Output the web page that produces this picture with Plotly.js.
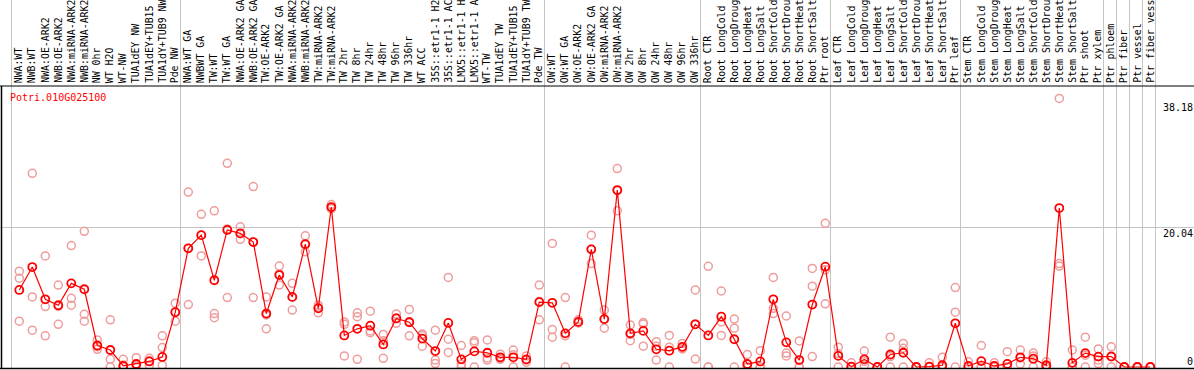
<!DOCTYPE html>
<html><head><meta charset="utf-8">
<script src="https://cdn.plot.ly/plotly-3.0.1.min.js"></script>
<style>html,body{margin:0;padding:0;background:#fff;overflow:hidden}#chart{width:1194px;height:370px;}</style>
</head><body><div id="chart"></div>
<script>
const geneName = "Potri.010G025100";
const categories = [
"NWA:WT","NWB:WT","NWA:OE-ARK2","NWB:OE-ARK2","NWA:miRNA-ARK2","NWB:miRNA-ARK2","NW 0hr","WT H2O","WT-NW","TUA1dEY NW","TUA1dEY+TUB15","TUA1dY+TUB9 NW","Pde NW",
"NWA:WT GA","NWBWT GA","TW:WT","TW:WT GA","NWA:OE-ARK2 GA","NWB:OE-ARK2 GA","TW:OE-ARK2","TW:OE-ARK2 GA","NWA:miRNA-ARK2","NWB:miRNA-ARK2","TW:miRNA-ARK2","TW:miRNA-ARK2","TW 2hr","TW 8hr","TW 24hr","TW 48hr","TW 96hr","TW 336hr","WT ACC","35S::etr1-1 H2","35S::etr1-1 AC","LMX5::etr1-1 H","LMX5::etr1-1 A","WT-TW","TUA1dEY TW","TUA1dEY+TUB15","TUA1dY+TUB9 TW","Pde TW",
"OW:WT","OW:WT GA","OW:OE-ARK2","OW:OE-ARK2 GA","OW:miRNA-ARK2","OW:miRNA-ARK2","OW 2hr","OW 8hr","OW 24hr","OW 48hr","OW 96hr","OW 336hr",
"Root CTR","Root LongCold","Root LongDroug","Root LongHeat","Root LongSalt","Root ShortCold","Root ShortDrou","Root ShortHeat","Root ShortSalt","Ptr root",
"Leaf CTR","Leaf LongCold","Leaf LongDroug","Leaf LongHeat","Leaf LongSalt","Leaf ShortCold","Leaf ShortDrou","Leaf ShortHeat","Leaf ShortSalt","Ptr leaf",
"Stem CTR","Stem LongCold","Stem LongDroug","Stem LongHeat","Stem LongSalt","Stem ShortCold","Stem ShortDrou","Stem ShortHeat","Stem ShortSalt","Ptr shoot","Ptr xylem",
"Ptr phloem","Ptr fiber","Ptr vessel","Ptr fiber vess"];
const meanValues = [
11.1,14.4,9.75,8.9,12.05,11.2,3.1,2.45,0.15,0.43,0.8,1.45,7.9,
17.1,19.0,12.5,19.75,19.25,18.0,7.7,13.25,10.1,17.7,8.45,23.05,4.55,5.5,5.95,3.25,7.0,6.45,4.1,2.3,6.35,1.1,2.25,2.05,1.4,1.4,1.1,9.35,
9.25,4.85,6.5,16.95,6.9,25.5,4.85,5.2,2.55,2.35,2.9,6.15,
4.55,7.25,4.0,0.43,0.8,9.75,3.55,1.0,9.0,14.45,
1.6,0.05,1.1,0.0,1.8,2.05,0.0,0.05,0.25,6.3,
0.15,0.85,0.15,0.45,1.4,1.2,0.25,22.9,0.6,2.0,1.5,
1.5,0,0,0];
const rep1 = [
13.8,27.9,16.0,11.8,17.5,19.55,3.9,6.8,1.1,1.35,1.25,4.5,9.2,
25.2,22.0,22.5,29.35,20.2,26.0,10.1,14.55,12.05,18.9,8.9,23.4,6.5,7.8,8.05,4.7,7.65,8.3,4.75,5.3,12.9,3.1,3.8,3.9,1.85,2.45,1.6,11.8,
17.8,10.0,6.8,19.0,8.2,28.6,6.05,6.4,3.65,4.55,3.4,11.1,
14.5,10.95,6.9,1.8,2.35,12.9,7.35,3.75,14.2,20.7,
2.85,0.6,2.3,0,4.3,3.4,0,0.6,1.4,11.45,
0.75,3.1,0.6,2.2,2.45,2.0,0.75,38.7,2.45,4.3,2.6,
2.9,0,0,0];
const rep2 = [
12.8,10.1,8.7,8.75,9.9,7.6,2.9,1.1,0.3,0.2,0.9,2.8,7.9,
17.1,19.0,7.7,19.9,19.2,18.0,7.5,13.4,10.05,17.6,8.6,22.9,6.15,7.25,5.2,3.8,7.05,6.55,4.55,1.0,4.0,0.4,3.5,1.3,1.25,1.75,1.0,9.45,
5.4,4.5,6.4,16.95,6.9,25.4,4.7,6.2,3.0,2.85,2.7,6.2,
0,6.5,5.6,0,0,8.45,2.0,0,11.65,14.0,
1.9,0,0.8,0,1.5,2.7,0,0,0,7.9,
0,0,0,0,1.3,1.6,0,14.9,0,1.7,1.0,
1.6,0,0,0];
const rep3 = [
6.6,5.3,4.5,6.15,8.9,6.6,2.55,0,0,0,0.25,0.25,6.6,
9.0,16.0,7.1,10.0,18.4,10.0,5.5,11.8,8.2,16.6,7.8,22.8,1.6,1.1,4.95,1.25,6.3,4.5,3.0,0.5,2.1,0,0,1.0,1.1,0,0.7,6.8,
4.3,0,6.35,14.9,5.6,22.5,3.8,3.0,1.0,0,2.6,1.15,
0,4.55,0,0,0,7.7,1.6,0,1.5,9.1,
0,0,0.2,0,0,0,0,0,0,0,
0,0,0,0,0.45,0,0,14.55,0,0,0.5,
0,0,0,0];
const groupStarts = [0,13,41,53,63,73,84,85,86,87,88];
const yTickValues = [38.18, 20.04, 0];
const yTickLabels = ["38.18", "20.04", "0"];

const W = 1194, H = 370, T = 86, B = 1;
const PH = H - T - B;
const pxPerCat = 13.0, firstPx = 19.3;
const xRange = [-firstPx / pxPerCat, (W - firstPx) / pxPerCat];
const y0px = 367, pxPerUnit = 6.94;
const yRange = [-(H - B - y0px) / pxPerUnit, -(H - B - y0px) / pxPerUnit + PH / pxPerUnit];
const paperY = px => (H - B - px) / PH;

const idx = categories.map((c, i) => i);
const repX = [], repY = [];
[rep1, rep2, rep3].forEach(r => r.forEach((v, i) => { repX.push(i); repY.push(v); }));

const font = "DejaVu Sans Mono, monospace";
const traces = [
  {x: repX, y: repY, type: 'scatter', mode: 'markers', cliponaxis: true,
   marker: {symbol: 'circle-open', size: 8, color: '#ee9c9c', line: {width: 1.5}}},
  {x: idx, y: meanValues, type: 'scatter', mode: 'lines+markers',
   line: {color: '#ff0000', width: 1.2},
   marker: {symbol: 'circle-open', size: 8, color: '#ff0000', line: {width: 1.8}}}
];

const shapes = groupStarts.map(g => ({type: 'line', layer: 'below', xref: 'x', yref: 'paper',
  x0: g - 0.6, x1: g - 0.6, y0: 0, y1: H / PH, line: {color: '#c4c4c4', width: 1}}));
shapes.push({type: 'line', xref: 'paper', yref: 'paper', x0: 0, x1: 1, y0: 1, y1: 1, line: {color: '#000', width: 1}});
shapes.push({type: 'line', xref: 'paper', yref: 'paper', x0: 0, x1: 1, y0: 0.002, y1: 0.002, line: {color: '#000', width: 1.5}});
shapes.push({type: 'line', xref: 'paper', yref: 'paper', x0: 1.5 / W, x1: 1.5 / W, y0: 0, y1: 1, line: {color: '#000', width: 1.5}});

const annotations = categories.map((c, i) => ({text: c, xref: 'x', x: i, yref: 'paper', y: paperY(84),
  xanchor: 'center', yanchor: 'bottom', textangle: -90, showarrow: false, borderpad: 0,
  font: {family: font, size: 9.9, color: '#000'}}));
annotations.push({text: geneName, xref: 'paper', x: 9 / W, yref: 'paper', y: paperY(91), xanchor: 'left', yanchor: 'top',
  showarrow: false, borderpad: 0, font: {family: font, size: 10, color: '#ff0000'}});
yTickValues.forEach((v, k) => annotations.push({text: yTickLabels[k], xref: 'paper', x: 1, yref: 'y', y: v,
  xanchor: 'right', yanchor: v === 0 ? 'bottom' : 'top', yshift: v === 0 ? -1 : 1, showarrow: false, borderpad: 0,
  font: {family: font, size: 10, color: '#000'}}));

const layout = {
  width: W, height: H, autosize: false, showlegend: false,
  margin: {l: 0, r: 0, t: T, b: B, pad: 0},
  paper_bgcolor: '#fff', plot_bgcolor: '#fff',
  xaxis: {range: xRange, showgrid: false, zeroline: false, showticklabels: false, ticks: '', fixedrange: true},
  yaxis: {range: yRange, tickvals: [20.04], showgrid: true, gridcolor: '#c4c4c4', gridwidth: 1, zeroline: false,
          showticklabels: false, ticks: '', fixedrange: true},
  shapes: shapes, annotations: annotations, hovermode: false
};
Plotly.newPlot('chart', traces, layout, {staticPlot: true, displayModeBar: false});
</script></body></html>
